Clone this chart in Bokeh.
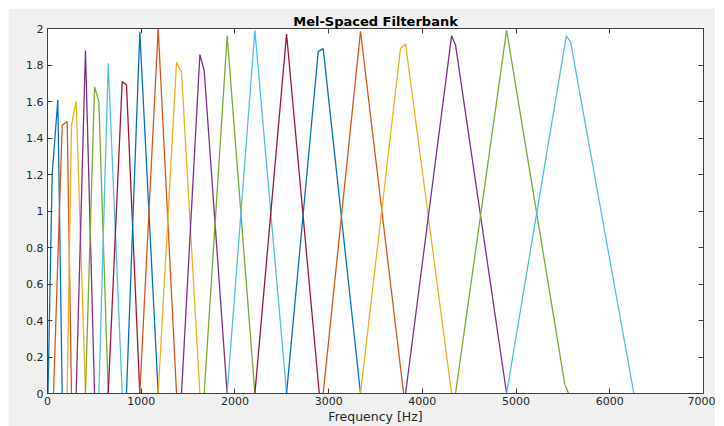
from bokeh.plotting import figure
from bokeh.models import LinearAxis, FixedTicker, Range1d
from bokeh.embed import file_html
from bokeh.resources import INLINE

# MATLAB default colour order
colors = ["#0072BD", "#D95319", "#EDB120", "#7E2F8E", "#77AC30", "#4DBEEE", "#A2142F"]

# Each filter: frequencies (Hz) and amplitudes of its polyline vertices
filter_freqs = [
    [5, 50, 110, 157],
    [64, 157, 210, 256],
    [210, 256, 306, 405],
    [306, 405, 502],
    [405, 502, 548, 648],
    [548, 648, 797],
    [648, 797, 843, 985],
    [843, 985, 1181],
    [985, 1181, 1377],
    [1181, 1377, 1430, 1626],
    [1430, 1626, 1672, 1917],
    [1672, 1917, 2213],
    [1917, 2213, 2551],
    [2213, 2551, 2900],
    [2551, 2889, 2942, 3340],
    [2942, 3340, 3800],
    [3340, 3767, 3821, 4312],
    [3821, 4312, 4354, 4899],
    [4354, 4899, 5520, 5560],
    [4899, 5536, 5582, 6257],
]
filter_amps = [
    [0, 1.2, 1.61, 0],
    [0, 1.47, 1.49, 0],
    [0, 1.47, 1.60, 0],
    [0, 1.88, 0],
    [0, 1.68, 1.60, 0],
    [0, 1.81, 0],
    [0, 1.71, 1.69, 0],
    [0, 1.98, 0],
    [0, 2.00, 0],
    [0, 1.815, 1.76, 0],
    [0, 1.857, 1.77, 0],
    [0, 1.96, 0],
    [0, 1.99, 0],
    [0, 1.97, 0],
    [0, 1.875, 1.89, 0],
    [0, 1.985, 0],
    [0, 1.89, 1.915, 0],
    [0, 1.96, 1.91, 0],
    [0, 1.99, 0.05, 0],
    [0, 1.96, 1.925, 0],
]

x_ticks = [0, 1000, 2000, 3000, 4000, 5000, 6000, 7000]
y_ticks = [0, 0.2, 0.4, 0.6, 0.8, 1.0, 1.2, 1.4, 1.6, 1.8, 2.0]
y_tick_labels = {0: "0", 0.2: "0.2", 0.4: "0.4", 0.6: "0.6", 0.8: "0.8", 1: "1",
                 1.2: "1.2", 1.4: "1.4", 1.6: "1.6", 1.8: "1.8", 2: "2"}

FONT = "DejaVu Sans"
AX = "#404040"

p = figure(width=707, height=418, margin=(8, 9, 0, 8),
           x_range=Range1d(0, 7000), y_range=Range1d(0, 2),
           output_backend="svg", toolbar_location=None,
           min_border_left=39, min_border_right=12, min_border_top=20, min_border_bottom=33,
           title="Mel-Spaced Filterbank")
p.background_fill_color = "white"
p.border_fill_color = "#f0f0f0"
p.outline_line_color = AX
p.outline_line_width = 1
p.xgrid.visible = False
p.ygrid.visible = False

p.title.align = "center"
p.title.text_font = FONT
p.title.text_font_size = "13px"
p.title.text_font_style = "bold"
p.title.text_color = "#000000"
p.title.standoff = 0
p.title.offset = 0

for i, (fx, fy) in enumerate(zip(filter_freqs, filter_amps)):
    p.line(fx, fy, line_color=colors[i % len(colors)], line_width=1.3)

def style_axis(ax, ticks, labels=True):
    ax.ticker = FixedTicker(ticks=ticks)
    ax.axis_line_color = AX
    ax.axis_line_width = 1
    ax.major_tick_line_color = AX
    ax.major_tick_in = 5
    ax.major_tick_out = 0
    ax.minor_tick_line_color = None
    ax.major_label_text_font = FONT
    ax.major_label_text_font_size = "11px"
    ax.major_label_text_color = "#262626"
    ax.major_label_standoff = 4 if labels else 0
    if not labels:
        ax.major_label_overrides = {t: "" for t in ticks}

style_axis(p.xaxis[0], x_ticks)
style_axis(p.yaxis[0], y_ticks)
p.yaxis[0].major_label_overrides = y_tick_labels
p.xaxis[0].major_label_standoff = 3
p.xaxis[0].axis_label = "Frequency [Hz]"
p.xaxis[0].axis_label_text_font = FONT
p.xaxis[0].axis_label_text_font_size = "12.5px"
p.xaxis[0].axis_label_text_font_style = "normal"
p.xaxis[0].axis_label_text_color = "#262626"
p.xaxis[0].axis_label_standoff = 1

top_ax = LinearAxis()
style_axis(top_ax, x_ticks, labels=False)
p.add_layout(top_ax, "above")
right_ax = LinearAxis()
style_axis(right_ax, y_ticks, labels=False)
p.add_layout(right_ax, "right")

open("out.html", "w").write(file_html(p, INLINE))
